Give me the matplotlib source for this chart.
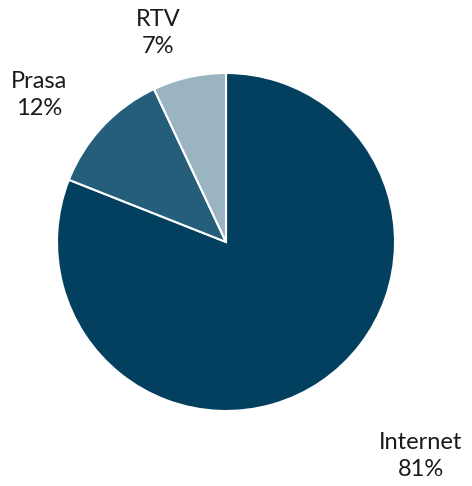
import matplotlib
matplotlib.use('Agg')
import matplotlib.pyplot as plt

# Data
labels = ['Internet', 'Prasa', 'RTV']
shares = [81, 12, 7]
colors = ['#03405f', '#255e7b', '#9ab4c2']

# label positions in data coords (pie radius = 1)
label_pos = [(1.154, -1.265), (-1.107, 0.87), (-0.402, 1.237)]

plt.rcParams['font.family'] = ['Lato', 'DejaVu Sans']

fig = plt.figure(figsize=(4.72, 4.86), dpi=100)
cx, cy = 226 / 472, 1 - 242 / 486
rw, rh = 169 / 472, 169 / 486
ax = fig.add_axes([cx - rw, cy - rh, 2 * rw, 2 * rh])

ax.pie(shares, colors=colors, startangle=90, counterclock=False,
       radius=1, wedgeprops=dict(edgecolor='white', linewidth=1.5))
ax.set_xlim(-1, 1)
ax.set_ylim(-1, 1)
ax.set_aspect('auto')
ax.axis('off')

for lab, val, (x, y) in zip(labels, shares, label_pos):
    ax.text(x, y, '{}\n{}%'.format(lab, val), ha='center', va='center',
            fontsize=17, color='#1a1a1a', linespacing=1.35, clip_on=False)

fig.savefig('out.png', dpi=100)
